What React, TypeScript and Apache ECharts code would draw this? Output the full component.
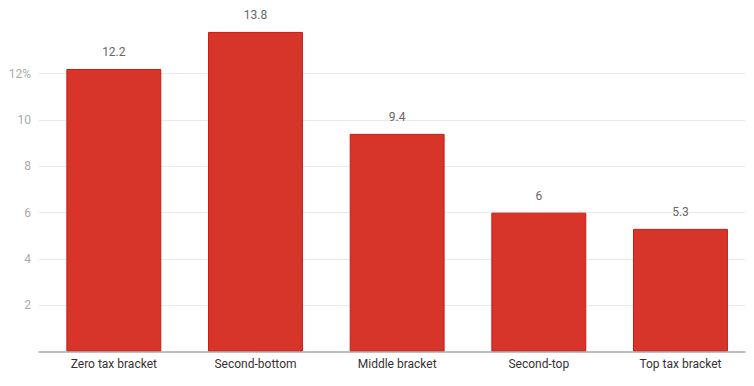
import React, { useEffect, useRef } from "react";
import * as echarts from "echarts";

const categories = ["Zero tax bracket", "Second-bottom", "Middle bracket", "Second-top", "Top tax bracket"];
const values = [12.2, 13.8, 9.4, 6, 5.3];
const yTicks = { min: 0, max: 14, interval: 2 };

export default function App() {
  const ref = useRef<HTMLDivElement>(null);
  useEffect(() => {
    const chart = echarts.init(ref.current!, undefined, { renderer: "svg" });
    chart.setOption({
      animation: false,
      grid: [
        { left: 39, right: 9, top: 27.3, bottom: 34.3, containLabel: false },
        { left: 43, right: 2.7, top: 27.3, bottom: 34.3, containLabel: false },
      ],
      xAxis: [
        {
          type: "category",
          gridIndex: 0,
          data: categories,
          axisLine: { show: true, lineStyle: { color: "#aaaaaa", width: 1.5 } },
          axisTick: { show: false },
          axisLabel: { show: false },
          z: 10,
        },
        {
          type: "category",
          gridIndex: 1,
          data: categories,
          axisLine: { show: false },
          axisTick: { show: false },
          axisLabel: { color: "#333333", fontSize: 12, fontFamily: "Roboto", margin: 6 },
        },
      ],
      yAxis: [
        {
          type: "value",
          gridIndex: 0,
          ...yTicks,
          axisLine: { show: false },
          axisTick: { show: false },
          axisLabel: {
            color: "#aaaaaa",
            fontSize: 12,
            fontFamily: "Roboto",
            margin: 8,
            showMinLabel: false,
            showMaxLabel: false,
            formatter: (v: number) => (v === 12 ? "12%" : String(v)),
          },
          splitLine: { show: true, showMaxLine: false, showMinLine: false, lineStyle: { color: "#eaeaea", width: 1 } },
        },
        {
          type: "value",
          gridIndex: 1,
          ...yTicks,
          show: false,
          splitLine: { show: false },
        },
      ],
      series: [
        {
          type: "bar",
          xAxisIndex: 1,
          yAxisIndex: 1,
          data: values,
          barWidth: "67%",
          itemStyle: { color: "#d7352a", borderColor: "#cc1a10", borderWidth: 1 },
          label: {
            show: true,
            position: "top",
            distance: 11,
            color: "#666666",
            fontSize: 12,
            fontFamily: "Roboto",
          },
        },
      ],
    });
    return () => chart.dispose();
  }, []);
  return <div ref={ref} style={{ width: 754, height: 386, position: "absolute", left: 0, top: 0 }} />;
}
